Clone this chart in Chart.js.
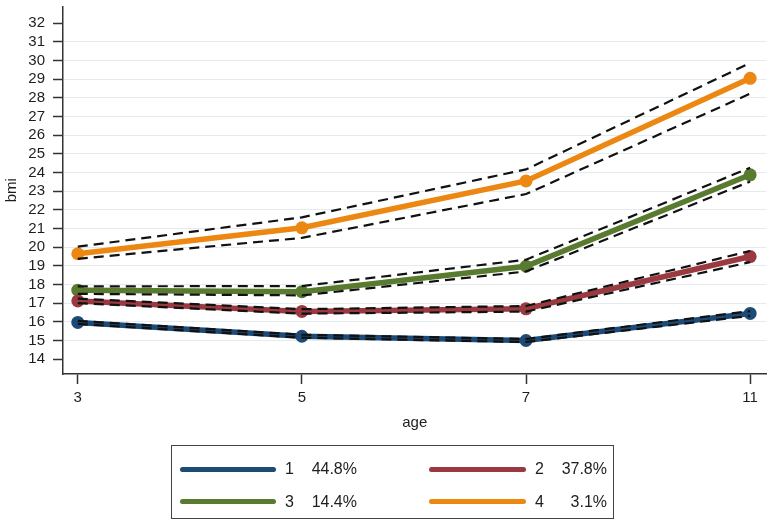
<!DOCTYPE html>
<html>
<head>
<meta charset="utf-8">
<script src="https://cdn.jsdelivr.net/npm/chart.js@4"></script>
<style>
  html, body { margin: 0; padding: 0; background: #fff; }
  #wrap { position: relative; width: 773px; height: 526px; font-family: "Liberation Sans", Arial, sans-serif; color: #1e1e1e; }
  #c { position: absolute; left: 0; top: 0; }
  #legend { position: absolute; left: 171px; top: 445px; width: 443px; height: 74px; border: 1px solid #444; box-sizing: border-box; }
  .ln { position: absolute; height: 5px; border-radius: 3px; }
  .num, .pct { position: absolute; font-size: 16px; line-height: 18px; white-space: nowrap; }
</style>
</head>
<body>
<div id="wrap">
  <canvas id="c" width="773" height="526"></canvas>
  <div id="legend"></div>
</div>
<script>
// ---- data ----
const ages = ['3', '5', '7', '11'];
const yTickValues = [14, 15, 16, 17, 18, 19, 20, 21, 22, 23, 24, 25, 26, 27, 28, 29, 30, 31, 32];
const classLabels = ['1', '2', '3', '4'];
const classShares = ['44.8%', '37.8%', '14.4%', '3.1%'];
const classColors = ['#1d4b78', '#9a3a40', '#587b30', '#ec8712'];

const class1Mean  = [15.97, 15.23, 15.00, 16.45];
const class1Upper = [16.05, 15.31, 15.08, 16.58];
const class1Lower = [15.89, 15.15, 14.92, 16.32];

const class2Mean  = [17.12, 16.56, 16.70, 19.50];
const class2Upper = [17.24, 16.68, 16.85, 19.80];
const class2Lower = [17.00, 16.44, 16.55, 19.20];

const class3Mean  = [17.70, 17.62, 18.98, 23.88];
const class3Upper = [17.90, 17.92, 19.33, 24.26];
const class3Lower = [17.50, 17.42, 18.70, 23.52];

const class4Mean  = [19.65, 21.04, 23.55, 29.05];
const class4Upper = [20.03, 21.60, 24.17, 29.87];
const class4Lower = [19.38, 20.50, 22.85, 28.23];

const means  = [class1Mean, class2Mean, class3Mean, class4Mean];
const uppers = [class1Upper, class2Upper, class3Upper, class4Upper];
const lowers = [class1Lower, class2Lower, class3Lower, class4Lower];

const toPts = arr => arr.map((v, i) => ({ x: i, y: v }));

const datasets = [];
means.forEach((m, k) => {
  datasets.push({
    label: 'Class ' + classLabels[k],
    data: toPts(m),
    borderColor: classColors[k],
    backgroundColor: classColors[k],
    borderWidth: 5.5,
    pointRadius: 6.5,
    pointBorderWidth: 0,
    pointBackgroundColor: classColors[k],
    tension: 0,
    order: 2
  });
});
[uppers, lowers].forEach(group => {
  group.forEach((arr, k) => {
    datasets.push({
      label: 'CI ' + classLabels[k],
      data: toPts(arr),
      borderColor: '#111',
      borderWidth: 2.2,
      borderDash: [10, 6],
      pointRadius: 0,
      tension: 0,
      order: 1
    });
  });
});

const tickFont = { family: '"Liberation Sans", Arial, sans-serif', size: 15 };

new Chart(document.getElementById('c'), {
  type: 'line',
  data: { datasets },
  options: {
    responsive: false,
    animation: false,
    devicePixelRatio: 1,
    layout: { padding: { left: 0, top: 2, right: 1, bottom: 92 } },
    plugins: { legend: { display: false }, tooltip: { enabled: false } },
    scales: {
      x: {
        type: 'linear',
        min: -0.066,
        max: 3.073,
        afterBuildTicks: s => { s.ticks = ages.map((a, i) => ({ value: i })); },
        afterFit: s => { s.height = 60; s.paddingLeft = 0; s.paddingRight = 0; },
        ticks: {
          callback: v => ages[v],
          font: tickFont, color: '#1e1e1e', padding: 5, maxRotation: 0, autoSkip: false
        },
        grid: { drawOnChartArea: false, drawTicks: true, tickLength: 10, tickColor: '#333', tickWidth: 1.5 },
        border: { display: true, color: '#333', width: 1.5 },
        title: { display: true, text: 'age', font: tickFont, color: '#1e1e1e', padding: { top: 0, bottom: 2 } }
      },
      y: {
        type: 'linear',
        min: 13.206,
        max: 32.9,
        afterBuildTicks: s => { s.ticks = yTickValues.map(v => ({ value: v })); },
        afterFit: s => { s.width = 63; s.paddingTop = 0; s.paddingBottom = 0; },
        ticks: { font: tickFont, color: '#1e1e1e', padding: 8, autoSkip: false },
        grid: {
          color: ctx => (ctx.tick && (ctx.tick.value === 14 || ctx.tick.value === 32)) ? 'rgba(0,0,0,0)' : '#e4ebef',
          lineWidth: 1,
          tickLength: 10,
          tickColor: '#333',
          tickWidth: 1.5
        },
        border: { display: true, color: '#333', width: 1.5 },
        title: { display: true, text: 'bmi', font: tickFont, color: '#1e1e1e', padding: { top: 3, bottom: 0 } }
      }
    }
  }
});

// ---- legend (HTML) ----
const legend = document.getElementById('legend');
const boxLeft = 171, boxTop = 445;
const rowCenters = [469, 501.5];
const colLineLeft = [180, 429];
const colLineWidth = [96, 97];
const colNumLeft = [285, 535];
const colPctRight = [357, 607];
classLabels.forEach((lab, k) => {
  const row = Math.floor(k / 2), col = k % 2;
  const cy = rowCenters[row] - boxTop;
  const ln = document.createElement('div');
  ln.className = 'ln';
  ln.style.left = (colLineLeft[col] - boxLeft - 1) + 'px';
  ln.style.width = colLineWidth[col] + 'px';
  ln.style.top = (cy - 2.5 - 1) + 'px';
  ln.style.background = classColors[k];
  legend.appendChild(ln);
  const num = document.createElement('div');
  num.className = 'num';
  num.textContent = lab;
  num.style.left = (colNumLeft[col] - boxLeft - 1) + 'px';
  num.style.top = (cy - 9 - 1) + 'px';
  legend.appendChild(num);
  const pct = document.createElement('div');
  pct.className = 'pct';
  pct.textContent = classShares[k];
  pct.style.right = (boxLeft + 443 - colPctRight[col] - 1) + 'px';
  pct.style.top = (cy - 9 - 1) + 'px';
  legend.appendChild(pct);
});
</script>
</body>
</html>
